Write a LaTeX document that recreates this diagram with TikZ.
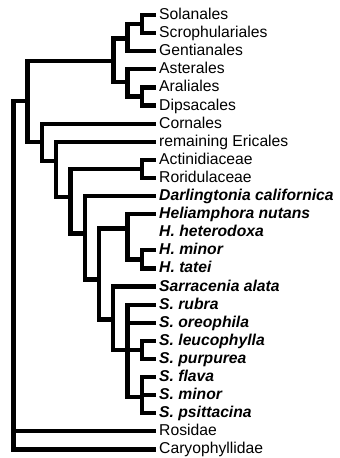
\documentclass[tikz,border=0pt]{standalone}
\usepackage{fontspec}
\setmainfont{Liberation Sans}
\usepackage{tikz}
\usetikzlibrary{positioning}

\begin{document}
\begin{tikzpicture}[x=1pt, y=-1pt, font=\fontsize{15.7}{18}\selectfont]
  \tikzset{branch/.style={line width=4.2pt, line join=miter},
    taxon/.style={anchor=west, inner xsep=3pt, inner ysep=0pt, text height=12.5pt, text depth=3.5pt},
    genus/.style={taxon, font=\fontsize{15.7}{18}\selectfont\bfseries\itshape}}
  \useasboundingbox (0,0) rectangle (340,458);
  % leaves
  \node[taxon] (sol) at (156,15.0) {Solanales};
  \node[taxon] (scr) at (156,33.1) {Scrophulariales};
  \node[taxon] (gen) at (156,51.2) {Gentianales};
  \node[taxon] (ast) at (156,69.3) {Asterales};
  \node[taxon] (ara) at (156,87.4) {Araliales};
  \node[taxon] (dip) at (156,105.5) {Dipsacales};
  \node[taxon] (cor) at (156,123.6) {Cornales};
  \node[taxon] (eri) at (156,141.7) {remaining Ericales};
  \node[taxon] (act) at (156,159.8) {Actinidiaceae};
  \node[taxon] (ror) at (156,177.9) {Roridulaceae};
  \node[genus] (dar) at (156,196.0) {Darlingtonia californica};
  \node[genus] (hnu) at (156,214.1) {Heliamphora nutans};
  \node[genus] (hhe) at (156,232.2) {H. heterodoxa};
  \node[genus] (hmi) at (156,250.3) {H. minor};
  \node[genus] (hta) at (156,268.4) {H. tatei};
  \node[genus] (sal) at (156,286.5) {Sarracenia alata};
  \node[genus] (sru) at (156,304.6) {S. rubra};
  \node[genus] (sor) at (156,322.7) {S. oreophila};
  \node[genus] (sle) at (156,340.8) {S. leucophylla};
  \node[genus] (spu) at (156,358.9) {S. purpurea};
  \node[genus] (sfl) at (156,377.0) {S. flava};
  \node[genus] (smi) at (156,395.1) {S. minor};
  \node[genus] (sps) at (156,413.2) {S. psittacina};
  \node[taxon] (ros) at (156,431.3) {Rosidae};
  \node[taxon] (car) at (156,449.4) {Caryophyllidae};
  % internal nodes
  \coordinate (root) at (13.5,101);
  \coordinate (ingroup) at (27.5,101);
  \coordinate (asterids) at (113.5,61);
  \coordinate (lamiids) at (127.5,38.5);
  \coordinate (solscr) at (142,24);
  \coordinate (campan) at (127.5,82);
  \coordinate (aradip) at (142,96.5);
  \coordinate (ericA) at (41.8,142);
  \coordinate (ericB) at (56,161);
  \coordinate (ericC) at (70.5,197);
  \coordinate (actror) at (142,169);
  \coordinate (sarrA) at (84.8,233.5);
  \coordinate (sarrB) at (99,279.5);
  \coordinate (helia) at (127.5,228.5);
  \coordinate (hmita) at (142,259.5);
  \coordinate (sarra) at (113.3,319.5);
  \coordinate (sarrC) at (127.5,350);
  \coordinate (slepu) at (142,350);
  \coordinate (sflav) at (142,397);
  % branches
  \draw[branch] (ingroup) -- (root) |- (car.west);
  \draw[branch] (root) |- (ros.west);
  \draw[branch] (ingroup) |- (asterids);
  \draw[branch] (ingroup) |- (ericA);
  \draw[branch] (asterids) |- (lamiids);
  \draw[branch] (asterids) |- (campan);
  \draw[branch] (lamiids) |- (solscr);
  \draw[branch] (lamiids) |- (gen.west);
  \draw[branch] (solscr) |- (sol.west);
  \draw[branch] (solscr) |- (scr.west);
  \draw[branch] (campan) |- (ast.west);
  \draw[branch] (campan) |- (aradip);
  \draw[branch] (aradip) |- (ara.west);
  \draw[branch] (aradip) |- (dip.west);
  \draw[branch] (ericA) |- (cor.west);
  \draw[branch] (ericA) |- (ericB);
  \draw[branch] (ericB) |- (eri.west);
  \draw[branch] (ericB) |- (ericC);
  \draw[branch] (ericC) |- (actror);
  \draw[branch] (ericC) |- (sarrA);
  \draw[branch] (actror) |- (act.west);
  \draw[branch] (actror) |- (ror.west);
  \draw[branch] (sarrA) |- (dar.west);
  \draw[branch] (sarrA) |- (sarrB);
  \draw[branch] (sarrB) |- (helia);
  \draw[branch] (sarrB) |- (sarra);
  \draw[branch] (helia) |- (hnu.west);
  \draw[branch] (helia) |- (hmita);
  \draw[branch] (hmita) |- (hmi.west);
  \draw[branch] (hmita) |- (hta.west);
  \draw[branch] (sarra) |- (sal.west);
  \draw[branch] (sarra) |- (sarrC);
  \draw[branch] (sarrC) |- (sru.west);
  \draw[branch] (sarrC) |- (sor.west);
  \draw[branch] (sarrC) |- (slepu);
  \draw[branch] (sarrC) |- (sflav);
  \draw[branch] (slepu) |- (sle.west);
  \draw[branch] (slepu) |- (spu.west);
  \draw[branch] (sflav) |- (sfl.west);
  \draw[branch] (sflav) |- (smi.west);
  \draw[branch] (sflav) |- (sps.west);
\end{tikzpicture}
\end{document}
